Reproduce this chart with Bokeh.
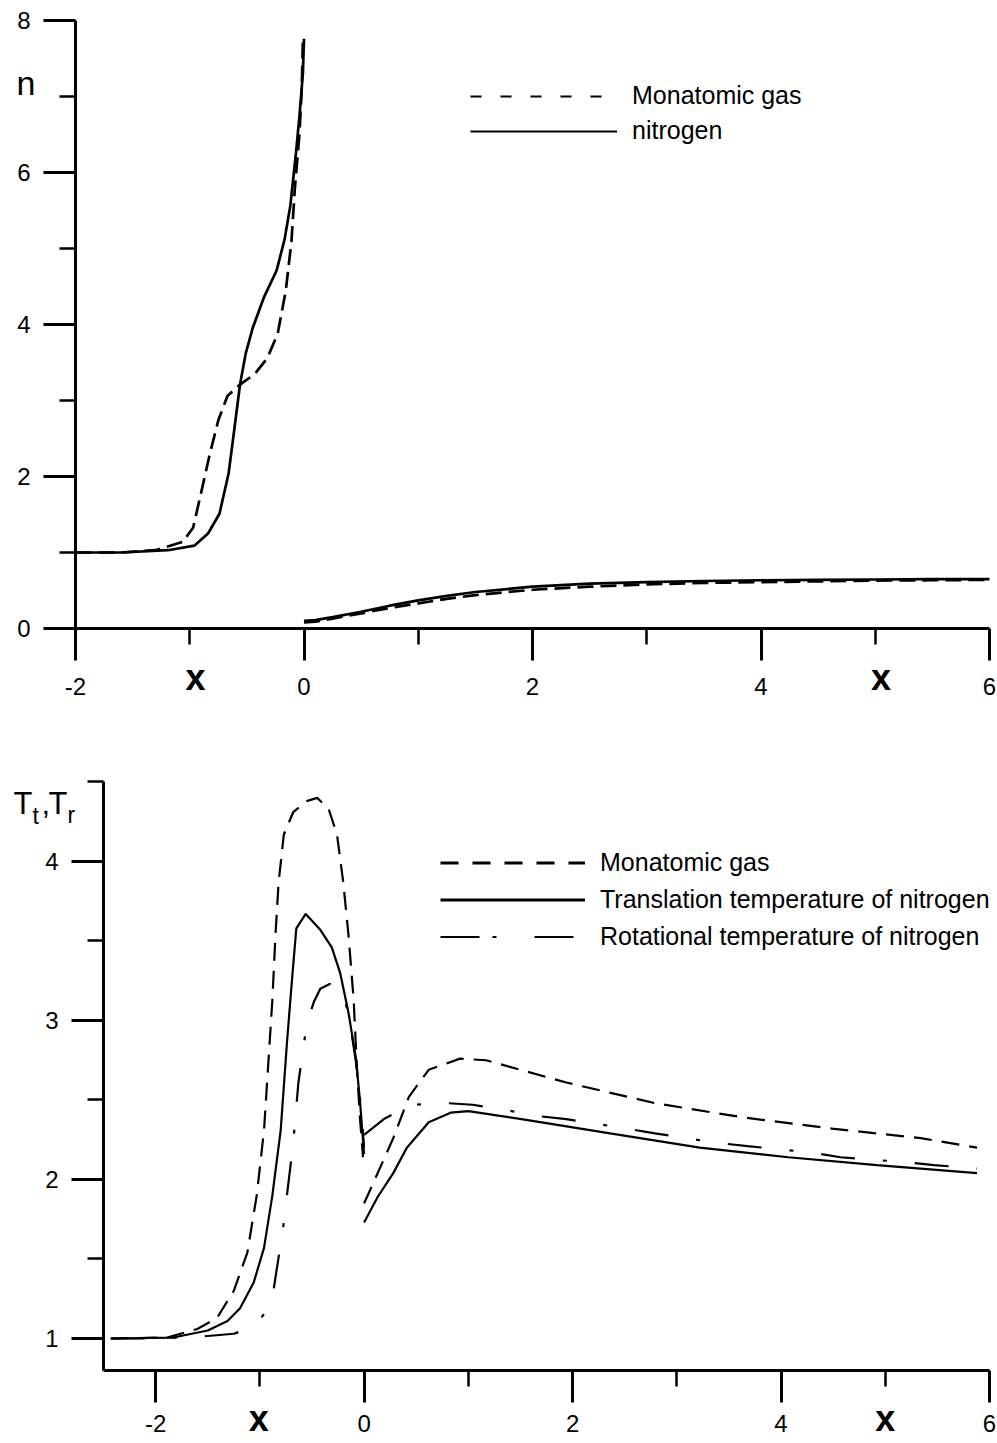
from bokeh.plotting import figure
from bokeh.layouts import column
from bokeh.models import Range1d, FixedTicker, Label, Legend, LegendItem, LinearAxis
from bokeh.embed import file_html
from bokeh.resources import INLINE

# ---------------- top panel: number density n ----------------
n_up_x_nitrogen = [-2.0, -1.6, -1.19, -0.96, -0.84, -0.74, -0.66, -0.61, -0.56, -0.51,
                   -0.45, -0.35, -0.24, -0.17, -0.12, -0.07, -0.04, -0.01, 0.0]
n_up_nitrogen = [1.0, 1.0, 1.03, 1.09, 1.25, 1.51, 2.04, 2.62, 3.21, 3.62,
                 3.95, 4.36, 4.71, 5.12, 5.56, 6.26, 6.74, 7.3, 7.76]
n_up_x_mono = [-2.0, -1.6, -1.3, -1.06, -0.97, -0.90, -0.83, -0.75, -0.67, -0.56,
               -0.43, -0.32, -0.23, -0.16, -0.11, -0.08, -0.04, -0.02, -0.01]
n_up_mono = [1.0, 1.0, 1.03, 1.14, 1.33, 1.79, 2.26, 2.74, 3.06, 3.21,
             3.35, 3.56, 3.88, 4.44, 5.09, 5.79, 6.50, 7.09, 7.73]

n_dn_x = [0.0, 0.1, 0.25, 0.5, 0.75, 1.0, 1.25, 1.5, 2.0, 2.5, 3.0, 3.5, 4.0, 4.5, 5.0, 5.5, 6.0]
n_dn_nitrogen = [0.10, 0.11, 0.15, 0.22, 0.30, 0.37, 0.43, 0.48, 0.55, 0.59, 0.61, 0.625,
                 0.635, 0.64, 0.645, 0.65, 0.65]
n_dn_mono = [0.08, 0.09, 0.13, 0.20, 0.27, 0.33, 0.39, 0.44, 0.51, 0.55, 0.58, 0.60,
             0.61, 0.62, 0.63, 0.635, 0.64]

top_x_major = [-2, 0, 2, 4, 6]
top_x_minor = [-1, 1, 3, 5]
top_y_major = [0, 2, 4, 6, 8]
top_y_minor = [1, 3, 5, 7]
top_legend_labels = ["Monatomic gas", "nitrogen"]

# ---------------- bottom panel: temperatures ----------------
T_up_x_trans = [-2.43, -1.83, -1.50, -1.31, -1.19, -1.06, -0.96, -0.88, -0.80, -0.74,
                -0.69, -0.65, -0.56, -0.42, -0.31, -0.23, -0.15, -0.08, -0.04, 0.0]
T_up_trans = [1.0, 1.006, 1.05, 1.11, 1.19, 1.35, 1.57, 1.90, 2.31, 2.86,
              3.27, 3.58, 3.67, 3.57, 3.46, 3.30, 3.05, 2.77, 2.50, 2.16]
T_up_x_mono = [-2.43, -1.89, -1.60, -1.41, -1.25, -1.12, -1.03, -0.96, -0.92, -0.88,
               -0.85, -0.82, -0.77, -0.68, -0.55, -0.45, -0.34, -0.26, -0.20, -0.15,
               -0.10, -0.07, -0.04, -0.01]
T_up_mono = [1.0, 1.006, 1.06, 1.13, 1.30, 1.54, 1.90, 2.31, 2.72, 3.13,
             3.54, 3.87, 4.17, 4.31, 4.38, 4.40, 4.33, 4.17, 3.87, 3.54,
             3.13, 2.72, 2.39, 2.14]
T_up_x_rot = [-2.43, -2.0, -1.6, -1.25, -1.12, -1.01, -0.93, -0.87, -0.78, -0.68,
              -0.63, -0.55, -0.48, -0.42, -0.33, -0.23, -0.15, -0.08, -0.03, 0.0]
T_up_rot = [1.0, 1.0, 1.01, 1.03, 1.06, 1.11, 1.18, 1.30, 1.68, 2.23,
            2.61, 2.98, 3.12, 3.20, 3.23, 3.21, 3.05, 2.75, 2.45, 2.2]

T_dn_x_mono = [0.0, 0.11, 0.28, 0.43, 0.62, 0.92, 1.17, 1.94, 2.79, 3.64, 4.49, 5.34, 5.88]
T_dn_mono = [1.85, 2.01, 2.26, 2.52, 2.69, 2.76, 2.75, 2.61, 2.48, 2.39, 2.32, 2.26, 2.20]
T_dn_x_trans = [0.0, 0.13, 0.28, 0.41, 0.62, 0.83, 1.0, 1.51, 2.36, 3.22, 4.07, 4.92, 5.88]
T_dn_trans = [1.73, 1.89, 2.04, 2.20, 2.36, 2.42, 2.43, 2.38, 2.29, 2.20, 2.14, 2.09, 2.04]
T_dn_x_rot = [0.0, 0.19, 0.45, 0.8, 1.04, 1.34, 1.65, 1.94, 2.52, 2.79, 3.39, 3.68,
              4.28, 4.57, 5.17, 5.47, 5.88]
T_dn_rot = [2.28, 2.38, 2.47, 2.48, 2.47, 2.44, 2.40, 2.38, 2.32, 2.29, 2.23, 2.21,
            2.17, 2.14, 2.11, 2.09, 2.07]

bot_x_major = [-2, 0, 2, 4, 6]
bot_x_minor = [-1, 1, 3, 5]
bot_y_major = [1, 2, 3, 4]
bot_y_minor = [1.5, 2.5, 3.5, 4.5]
bot_legend_labels = ["Monatomic gas", "Translation temperature of nitrogen",
                     "Rotational temperature of nitrogen"]

FONT = "Liberation Sans"
NAN = float("nan")


def make_axis(major, minor, bounds, loc, standoff, size="24px"):
    ax = LinearAxis(fixed_location=loc, bounds=bounds)
    ax.ticker = FixedTicker(ticks=major, minor_ticks=minor)
    ax.major_label_overrides = {t: ("%g" % t) for t in major}
    ax.axis_line_width = 3
    ax.axis_line_color = "black"
    ax.major_tick_in = 0
    ax.major_tick_out = 32
    ax.minor_tick_in = 0
    ax.minor_tick_out = 16
    ax.major_tick_line_width = 3
    ax.minor_tick_line_width = 2.5
    ax.major_tick_line_color = "black"
    ax.minor_tick_line_color = "black"
    ax.major_label_text_font = FONT
    ax.major_label_text_font_size = size
    ax.major_label_text_color = "black"
    ax.major_label_standoff = standoff
    return ax


def base_fig(h, xr, yr):
    p = figure(width=997, height=h, x_range=Range1d(*xr), y_range=Range1d(*yr),
               output_backend="svg", toolbar_location=None,
               x_axis_type=None, y_axis_type=None, min_border=0)
    p.outline_line_color = None
    p.background_fill_color = "white"
    p.border_fill_color = "white"
    return p


def legend(items, loc, gw, h, sp, fs):
    return Legend(items=items, location=loc, glyph_width=gw, glyph_height=h,
                  label_height=h, label_standoff=15, spacing=sp, padding=0, margin=0,
                  border_line_color=None, background_fill_alpha=0,
                  label_text_font=FONT, label_text_font_size=fs,
                  label_text_color="black")


def text_label(**kw):
    kw.setdefault("text_font", FONT)
    kw.setdefault("text_color", "black")
    kw.setdefault("text_baseline", "alphabetic")
    return Label(**kw)


# ---------------- top figure (page y 0..712) ----------------
p1 = base_fig(712, (-2.6565, 6.0700), (-1.1053, 8.2632))
p1.add_layout(make_axis(top_x_major, top_x_minor, (-2, 6), 0, 18), "below")
p1.add_layout(make_axis(top_y_major, top_y_minor, (0, 8), -2, 13), "left")

LW1 = 2.7
p1.line(n_up_x_mono, n_up_mono, line_color="black", line_width=LW1, line_dash="16 7")
p1.line(n_up_x_nitrogen, n_up_nitrogen, line_color="black", line_width=LW1)
p1.line(n_dn_x, n_dn_mono, line_color="black", line_width=LW1, line_dash="16 7")
p1.line(n_dn_x, n_dn_nitrogen, line_color="black", line_width=LW1)

lg1a = p1.line(x=[NAN], y=[NAN], line_color="black", line_width=2, line_dash="11 19")
lg1b = p1.line(x=[NAN], y=[NAN], line_color="black", line_width=2)
p1.add_layout(legend([LegendItem(label=top_legend_labels[0], renderers=[lg1a]),
                      LegendItem(label=top_legend_labels[1], renderers=[lg1b])],
                     (470, 567), 147, 28, 6, "25px"))

p1.add_layout(text_label(x=-2.433, y=7.184, text="n", text_font_size="34px",
                         text_align="center"))
for xv in (-0.95, 5.05):
    p1.add_layout(text_label(x=xv, y=-0.645, text="x", text_font_size="36px",
                             text_font_style="bold", text_align="center"))

# ---------------- bottom figure (page y 712..1443) ----------------
p2 = base_fig(731, (-3.4882, 6.0768), (0.3396, 4.9371))
p2.add_layout(make_axis(bot_x_major, bot_x_minor, (-2.5, 6), 0.8, 13), "below")
p2.add_layout(make_axis(bot_y_major, bot_y_minor, (0.8, 4.5), -2.5, 13), "left")

LW2 = 2.2
DASH = "18 10"
DASHDOT = "34 28 4 28"
p2.line(T_up_x_mono, T_up_mono, line_color="black", line_width=LW2, line_dash=DASH)
p2.line(T_up_x_trans, T_up_trans, line_color="black", line_width=LW2)
p2.line(T_up_x_rot, T_up_rot, line_color="black", line_width=LW2, line_dash=DASHDOT)
p2.line(T_dn_x_mono, T_dn_mono, line_color="black", line_width=LW2, line_dash=DASH)
p2.line(T_dn_x_trans, T_dn_trans, line_color="black", line_width=LW2)
p2.line(T_dn_x_rot, T_dn_rot, line_color="black", line_width=LW2, line_dash=DASHDOT)

lg2a = p2.line(x=[NAN], y=[NAN], line_color="black", line_width=3, line_dash="18 14")
lg2b = p2.line(x=[NAN], y=[NAN], line_color="black", line_width=3)
lg2c = p2.line(x=[NAN], y=[NAN], line_color="black", line_width=2, line_dash="39 13 4 38")
p2.add_layout(legend([LegendItem(label=bot_legend_labels[0], renderers=[lg2a]),
                      LegendItem(label=bot_legend_labels[1], renderers=[lg2b]),
                      LegendItem(label=bot_legend_labels[2], renderers=[lg2c])],
                     (440, 492), 145, 29, 8, "25px"))

# y-axis title  T_t, T_r  (main letters + subscripts)
TY = 4.365
p2.add_layout(text_label(x=-2.5, y=TY, x_offset=-90, text="T", text_font_size="31px"))
p2.add_layout(text_label(x=-2.5, y=TY, x_offset=-71, y_offset=-13, text="t",
                         text_font_size="23px"))
p2.add_layout(text_label(x=-2.5, y=TY, x_offset=-62, text=",", text_font_size="31px"))
p2.add_layout(text_label(x=-2.5, y=TY, x_offset=-55, text="T", text_font_size="31px"))
p2.add_layout(text_label(x=-2.5, y=TY, x_offset=-36, y_offset=-12, text="r",
                         text_font_size="23px"))

for xv in (-1.01, 5.0):
    p2.add_layout(text_label(x=xv, y=0.497, text="x", text_font_size="36px",
                             text_font_style="bold", text_align="center"))

layout = column(p1, p2, spacing=0)
open("out.html", "w").write(file_html(layout, INLINE))
